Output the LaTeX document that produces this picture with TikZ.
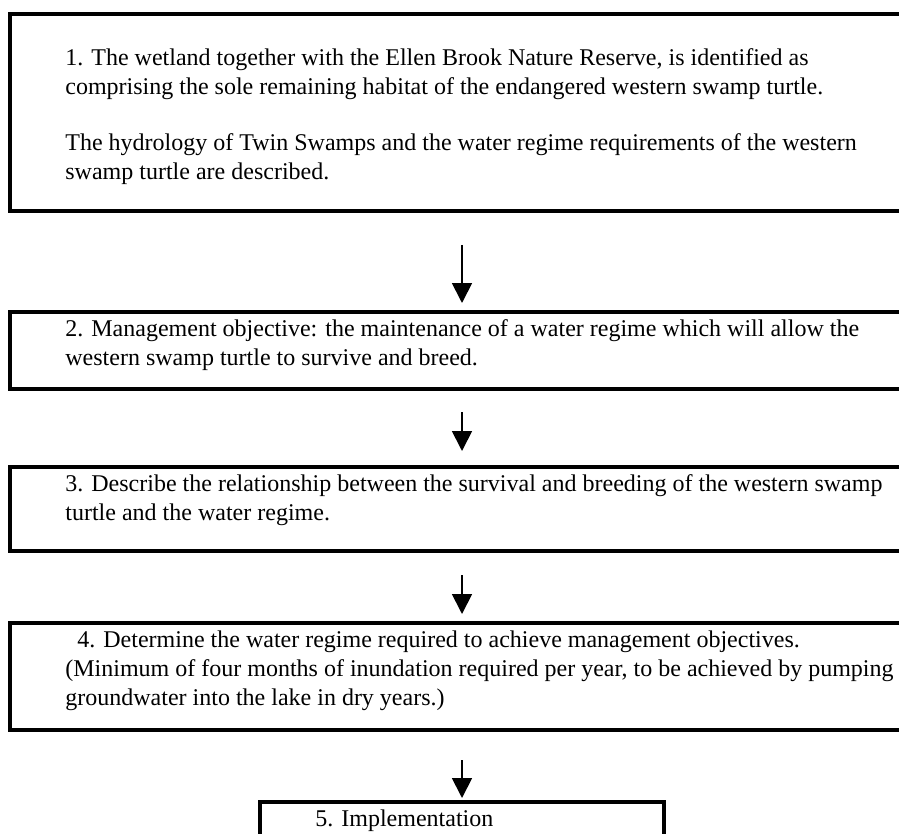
\documentclass[tikz,border=0pt]{standalone}
\usepackage{fontspec}
\setmainfont{Liberation Serif}
\usetikzlibrary{arrows.meta}
\begin{document}
\begin{tikzpicture}[x=0.5pt,y=-0.5pt,
  stagebox/.style={draw=black, line width=1.6pt, rectangle, inner sep=0pt,
    outer sep=0pt, anchor=north west},
  % multi-line texts are placed by the baseline of their last line
  stagetext/.style={anchor=base west, inner sep=0pt, align=left,
    font=\fontsize{12}{14.5}\selectfont},
  flow/.style={line width=0.9pt, -{Triangle[width=10pt,length=10pt]}}]
\useasboundingbox (0,0) rectangle (899,834);
\clip (0,0) rectangle (899,834);

% stage boxes (the wide ones run past the right margin)
\node[stagebox, minimum width=452pt, minimum height=98.5pt] (b1) at (10,14) {};
\node[stagebox, minimum width=452pt, minimum height=38.5pt] (b2) at (10,312) {};
\node[stagebox, minimum width=452pt, minimum height=42pt]   (b3) at (10,467) {};
\node[stagebox, minimum width=452pt, minimum height=53.5pt] (b4) at (10,623) {};
\node[stagebox, minimum width=202pt, minimum height=30pt]   (b5) at (260,802) {};

% stage texts
\node[stagetext] (t1) at (65,180) {1. The wetland together with the Ellen Brook Nature Reserve, is identified as\\
comprising the sole remaining habitat of the endangered western swamp turtle.\\[13.5pt]
The hydrology of Twin Swamps and the water regime requirements of the western\\
swamp turtle are described.};
\node[stagetext] (t2) at (65,365) {2. Management objective: the maintenance of a water regime which will allow the\\
western swamp turtle to survive and breed.};
\node[stagetext] (t3) at (65,520) {3. Describe the relationship between the survival and breeding of the western swamp\\
turtle and the water regime.};
\node[stagetext] (t4) at (65,705) {\hspace*{6pt}4. Determine the water regime required to achieve management objectives.\\
(Minimum of four months of inundation required per year, to be achieved by pumping\\
groundwater into the lake in dry years.)};
\node[stagetext] (t5) at (315,826) {5. Implementation};

% flow arrows
\draw[flow, shorten <=17pt, shorten >=4.5pt] (b1.south) -- (b2.north);
\draw[flow, shorten <=11.5pt, shorten >=8pt] (b2.south) -- (b3.north);
\draw[flow, shorten <=12pt, shorten >=4.5pt] (b3.south) -- (b4.north);
\draw[flow, shorten <=15pt, shorten >=2pt] (b4.south) -- (b5.north);
\end{tikzpicture}
\end{document}
